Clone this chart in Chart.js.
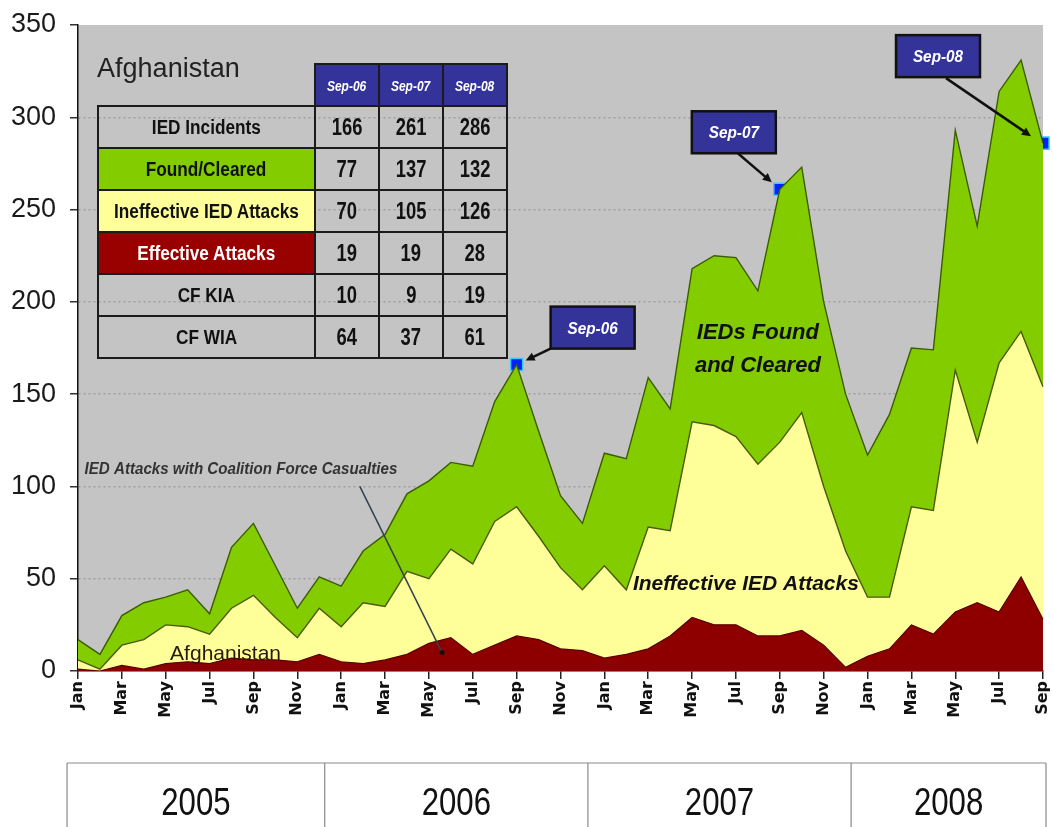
<!DOCTYPE html>
<html>
<head>
<meta charset="utf-8">
<title>Afghanistan IED incidents 2005-2008</title>
<script src="https://cdn.jsdelivr.net/npm/chart.js@4/dist/chart.umd.min.js"></script>
<style>
  body { margin: 0; background: #fff; }
  #wrap { position: relative; width: 1053px; height: 827px; overflow: hidden; }
  #chart { position: absolute; left: 0; top: 0; }
  #summary {
    position: absolute; left: 97px; top: 63px;
    border-collapse: collapse; table-layout: fixed;
    font-family: "Liberation Sans", Arial, sans-serif; font-weight: bold; color: #111;
  }
  #summary td { height: 40px; border: 2px solid #1b1b1b; padding: 0; text-align: center; white-space: nowrap; overflow: hidden; }
  #summary td.name { width: 206px; font-size: 20px; }
  #summary td.num { width: 62px; font-size: 23px; }
  #summary td.head { background: #333399; color: #fff; font-style: italic; font-size: 15px; }
  #summary td.blank { border: none; }
  #summary span { display: inline-block; transform: scaleX(0.86); }
  #summary td.num span { transform: scaleX(0.8); }
</style>
</head>
<body>
<div id="wrap">
  <canvas id="chart" width="1053" height="827"></canvas>
  <table id="summary"></table>
</div>
<script>
// months Jan 2005 .. Sep 2008
const categories = [
  'Jan-05','Feb-05','Mar-05','Apr-05','May-05','Jun-05','Jul-05','Aug-05','Sep-05','Oct-05','Nov-05','Dec-05',
  'Jan-06','Feb-06','Mar-06','Apr-06','May-06','Jun-06','Jul-06','Aug-06','Sep-06','Oct-06','Nov-06','Dec-06',
  'Jan-07','Feb-07','Mar-07','Apr-07','May-07','Jun-07','Jul-07','Aug-07','Sep-07','Oct-07','Nov-07','Dec-07',
  'Jan-08','Feb-08','Mar-08','Apr-08','May-08','Jun-08','Jul-08','Aug-08','Sep-08'
];

// stacked series (bottom to top)
const effectiveAttacks = [1,0,3,1,4,5,4,7,6,6,5,9, 5,4,6,9,15,18,9,14,19,17,12,11, 7,9,12,19,29,25,25,19,19,22,14,2, 8,12,25,20,32,37,32,51,28];
const ineffectiveAttacks = [5,1,11,16,21,19,16,27,35,23,13,25, 19,33,29,45,35,48,49,67,70,56,44,33, 50,35,66,57,106,108,102,93,105,118,86,63, 32,28,64,67,131,87,135,133,126];
const foundCleared = [11,8,16,20,15,20,11,33,39,28,16,17, 22,28,39,42,53,47,53,65,77,57,39,36, 61,71,81,66,83,92,97,94,137,133,100,85, 77,99,86,87,130,117,147,147,132];

const yTicks = [0, 50, 100, 150, 200, 250, 300, 350];

// summary table
const tableCols = ['Sep-06', 'Sep-07', 'Sep-08'];
const iedIncidents = [166, 261, 286];
const foundRow = [77, 137, 132];
const ineffectiveRow = [70, 105, 126];
const effectiveRow = [19, 19, 28];
const cfKIA = [10, 9, 19];
const cfWIA = [64, 37, 61];

const GREEN = '#82cc00', YELLOW = '#ffff99', RED = '#8e0000', PANEL = '#c4c4c4', BLUE = '#333399';

// build the table
const rows = [
  ['IED Incidents', iedIncidents, 'transparent', '#111'],
  ['Found/Cleared', foundRow, GREEN, '#111'],
  ['Ineffective IED Attacks', ineffectiveRow, YELLOW, '#111'],
  ['Effective Attacks', effectiveRow, '#990000', '#fff'],
  ['CF KIA', cfKIA, 'transparent', '#111'],
  ['CF WIA', cfWIA, 'transparent', '#111']
];
let html = '<tr><td class="name blank"></td>' + tableCols.map(c => `<td class="num head"><span>${c}</span></td>`).join('') + '</tr>';
rows.forEach(([name, vals, bg, fg]) => {
  html += `<tr><td class="name" style="background:${bg};color:${fg}"><span>${name}</span></td>` +
    vals.map(v => `<td class="num"><span>${v}</span></td>`).join('') + '</tr>';
});
document.getElementById('summary').innerHTML = html;

// blue markers at the table months
const markerData = categories.map(c => {
  const k = tableCols.indexOf(c);
  return k >= 0 ? iedIncidents[k] : null;
});

function narrowText(ctx, text, x, y, font, color, sx, align) {
  ctx.save();
  ctx.font = font;
  ctx.fillStyle = color;
  ctx.textAlign = align || 'left';
  ctx.textBaseline = 'alphabetic';
  ctx.translate(x, y);
  ctx.scale(sx, 1);
  ctx.fillText(text, 0, 0);
  ctx.restore();
}

function arrow(ctx, x1, y1, x2, y2) {
  const ang = Math.atan2(y2 - y1, x2 - x1), h = 10;
  ctx.save();
  ctx.strokeStyle = '#111'; ctx.fillStyle = '#111'; ctx.lineWidth = 2.5;
  ctx.beginPath(); ctx.moveTo(x1, y1);
  ctx.lineTo(x2 - Math.cos(ang) * h * 0.8, y2 - Math.sin(ang) * h * 0.8); ctx.stroke();
  ctx.beginPath(); ctx.moveTo(x2, y2);
  ctx.lineTo(x2 - h * Math.cos(ang - 0.45), y2 - h * Math.sin(ang - 0.45));
  ctx.lineTo(x2 - h * Math.cos(ang + 0.45), y2 - h * Math.sin(ang + 0.45));
  ctx.closePath(); ctx.fill();
  ctx.restore();
}

// callout box offset from marker: box left/top, arrow start, arrow end
const calloutLayout = [
  { box: [34, -58], from: [38, -18], to: [9, -4] },
  { box: [-88, -78], from: [-42, -36], to: [-8, -7] },
  { box: [-147, -108], from: [-97, -65], to: [-12, -7] }
];

const overlay = {
  id: 'overlay',
  beforeDraw(chart) {
    const { ctx, chartArea: a } = chart;
    ctx.save();
    ctx.fillStyle = PANEL;
    ctx.fillRect(a.left, a.top, a.right - a.left, a.bottom - a.top);
    ctx.restore();
  },
  afterDatasetsDraw(chart) {
    const { ctx } = chart;
    const xs = chart.scales.x, ys = chart.scales.y;
    const X = v => xs.getPixelForValue(v), Y = v => ys.getPixelForValue(v);

    narrowText(ctx, 'Afghanistan', X(0.87), Y(322), '27px "Liberation Sans", Arial', '#222', 1, 'left');
    narrowText(ctx, 'Afghanistan', X(4.2), Y(6), '21px "Liberation Sans", Arial', '#2a1808', 1, 'left');
    narrowText(ctx, 'IEDs Found', X(31.0), Y(180), 'italic bold 22px "Liberation Sans", Arial', '#111', 1, 'center');
    narrowText(ctx, 'and Cleared', X(31.0), Y(162), 'italic bold 22px "Liberation Sans", Arial', '#111', 1, 'center');
    narrowText(ctx, 'Ineffective IED Attacks', X(25.3), Y(44), 'italic bold 21px "Liberation Sans", Arial', '#111', 1, 'left');
    narrowText(ctx, 'IED Attacks with Coalition Force Casualties', X(0.3), Y(107), 'italic bold 17px "Liberation Sans", Arial', '#333', 0.89, 'left');

    // pointer from the casualties label
    ctx.save();
    ctx.strokeStyle = '#34404c'; ctx.lineWidth = 1.5;
    ctx.beginPath(); ctx.moveTo(X(12.85), Y(100)); ctx.lineTo(X(16.6), Y(10)); ctx.stroke();
    ctx.fillStyle = '#111';
    ctx.beginPath(); ctx.arc(X(16.6), Y(10), 2.5, 0, Math.PI * 2); ctx.fill();
    ctx.restore();

    // callouts
    const meta = chart.getDatasetMeta(3);
    tableCols.forEach((c, k) => {
      const p = meta.data[categories.indexOf(c)];
      const L = calloutLayout[k];
      const bx = p.x + L.box[0], by = p.y + L.box[1], bw = 84, bh = 42;
      arrow(ctx, p.x + L.from[0], p.y + L.from[1], p.x + L.to[0], p.y + L.to[1]);
      ctx.save();
      ctx.fillStyle = BLUE; ctx.strokeStyle = '#111'; ctx.lineWidth = 2.5;
      ctx.fillRect(bx, by, bw, bh); ctx.strokeRect(bx, by, bw, bh);
      ctx.restore();
      narrowText(ctx, c, bx + bw / 2, by + 27, 'italic bold 17px "Liberation Sans", Arial', '#fff', 0.9, 'center');
    });
  },
  afterDraw(chart) {
    // year band under the month labels
    const { ctx, chartArea: a } = chart;
    const xs = chart.scales.x;
    const top = a.bottom + 92;
    const years = [];
    categories.forEach((c, i) => {
      const yr = c.slice(4);
      if (!years.length || years[years.length - 1].yr !== yr) years.push({ yr, first: i });
    });
    const edges = years.map((y, k) => k === 0 ? xs.getPixelForValue(-0.5) : xs.getPixelForValue(y.first - 0.75));
    edges.push(a.right + 3);
    ctx.save();
    ctx.strokeStyle = '#8a8a8a'; ctx.lineWidth = 1.2;
    ctx.beginPath();
    ctx.moveTo(edges[0], top); ctx.lineTo(edges[edges.length - 1], top);
    edges.forEach(e => { ctx.moveTo(e, top); ctx.lineTo(e, chart.height); });
    ctx.stroke();
    ctx.restore();
    years.forEach((y, k) => {
      narrowText(ctx, '20' + y.yr, (edges[k] + edges[k + 1]) / 2, top + 52, '38px "Liberation Sans", Arial', '#111', 0.82, 'center');
    });
  }
};

Chart.defaults.font.family = '"Liberation Sans", Arial, sans-serif';

new Chart(document.getElementById('chart'), {
  type: 'line',
  data: {
    labels: categories,
    datasets: [
      { label: 'Effective Attacks', data: effectiveAttacks, backgroundColor: RED, borderColor: '#5a0000', borderWidth: 1.2, fill: 'origin', pointRadius: 0, tension: 0 },
      { label: 'Ineffective IED Attacks', data: ineffectiveAttacks, backgroundColor: YELLOW, borderColor: '#4a5a10', borderWidth: 1.4, fill: '-1', pointRadius: 0, tension: 0 },
      { label: 'Found/Cleared', data: foundCleared, backgroundColor: GREEN, borderColor: '#3d5c00', borderWidth: 1.4, fill: '-1', pointRadius: 0, tension: 0 },
      { label: 'IED Incidents', data: markerData, stack: 'markers', showLine: false, fill: false, clip: false,
        pointStyle: 'rect', pointRadius: 8.5, pointBackgroundColor: '#0022ff', pointBorderColor: '#3cc8ff', pointBorderWidth: 1.5 }
    ]
  },
  options: {
    responsive: false,
    animation: false,
    devicePixelRatio: 1,
    layout: { padding: { left: 0, right: 7, top: 25, bottom: 0 } },
    plugins: { legend: { display: false }, tooltip: { enabled: false } },
    scales: {
      x: {
        stacked: true,
        offset: false,
        grid: {
          drawOnChartArea: false, tickLength: 8, lineWidth: 1.5,
          tickColor: ctx => ctx.index % 2 === 0 ? '#222' : 'rgba(0,0,0,0)'
        },
        border: { color: '#111', width: 1.5 },
        ticks: {
          autoSkip: false, minRotation: 90, maxRotation: 90, padding: 2,
          color: '#111', font: { family: '"DejaVu Sans"', weight: 'bold', size: 16 },
          callback: (v, i) => i % 2 === 0 ? categories[i].slice(0, 3) : ''
        },
        afterFit: s => { s.height = 156; s.paddingLeft = 0; s.paddingRight = 0; }
      },
      y: {
        stacked: true,
        min: 0, max: 350,
        afterBuildTicks: s => { s.ticks = yTicks.map(v => ({ value: v })); },
        grid: {
          tickLength: 8, lineWidth: 1.5, tickColor: '#333',
          color: ctx => (ctx.tick && ctx.tick.value > 0 && ctx.tick.value < 350) ? '#9e9e9e' : 'rgba(0,0,0,0)'
        },
        border: { color: '#111', width: 1.5, dash: [2, 3] },
        ticks: { padding: 14, color: '#1a1a1a', font: { size: 27 } },
        afterFit: s => { s.width = 78; s.paddingTop = 0; s.paddingBottom = 0; }
      }
    }
  },
  plugins: [overlay]
});
</script>
</body>
</html>
